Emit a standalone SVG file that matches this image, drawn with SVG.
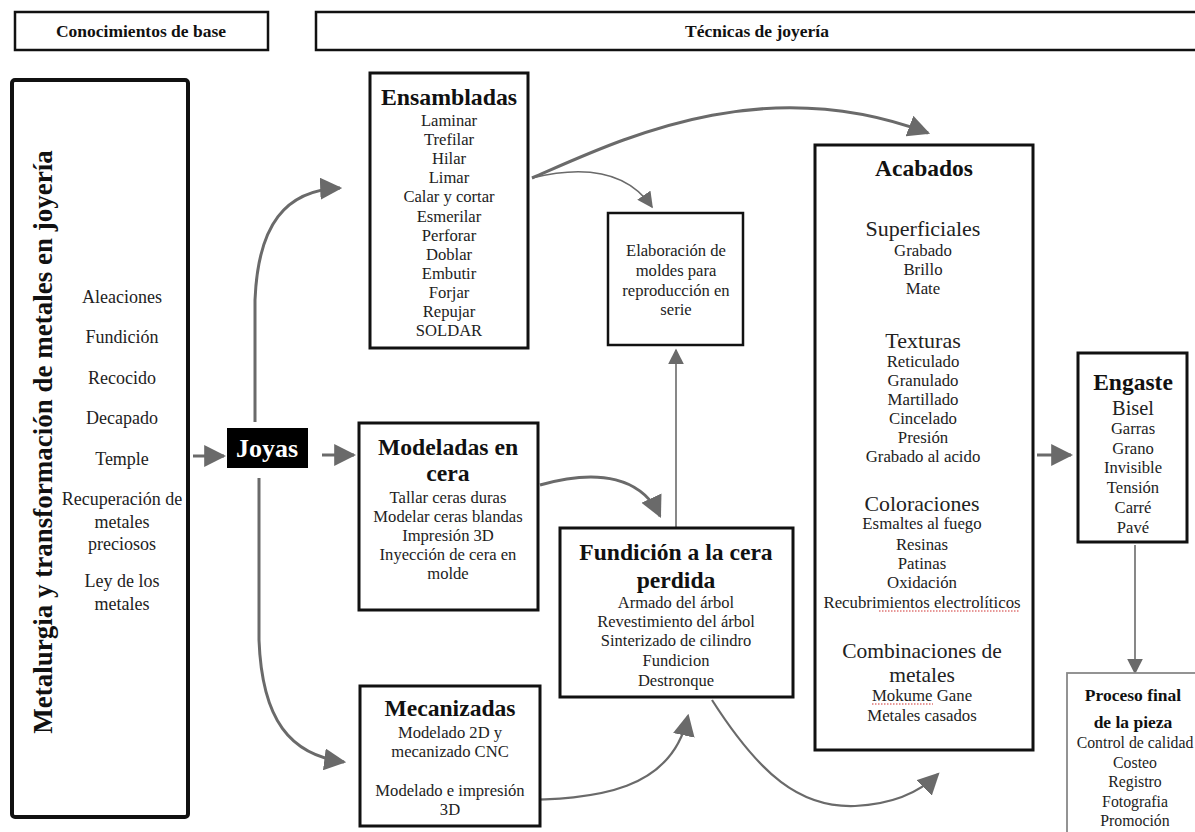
<svg xmlns="http://www.w3.org/2000/svg" width="1195" height="832" viewBox="0 0 1195 832">
<defs>
<style>
.box{fill:#fff;stroke:#111;stroke-width:3}
.hdr{fill:#fff;stroke:#111;stroke-width:2.5}
.t{font-family:"Liberation Serif","Times New Roman",serif;fill:#222;text-anchor:middle}
.b{font-weight:bold;fill:#111}
.c{fill:none;stroke:#6a6a6a;stroke-width:3}
.ct{fill:none;stroke:#6a6a6a;stroke-width:1.6}
.sq{fill:none;stroke:#d03030;stroke-width:1.2;stroke-dasharray:1.5 1.5}
</style>
<marker id="ah" viewBox="0 0 10 10" refX="9" refY="5" markerWidth="22" markerHeight="22" markerUnits="userSpaceOnUse" orient="auto">
<path d="M0,0 L10,5 L0,10 Z" fill="#6a6a6a"/>
</marker>
<marker id="ahs" viewBox="0 0 10 10" refX="9" refY="5" markerWidth="16" markerHeight="16" markerUnits="userSpaceOnUse" orient="auto">
<path d="M0,0 L10,5 L0,10 Z" fill="#6a6a6a"/>
</marker>
</defs>
<rect width="1195" height="832" fill="#fff"/>

<g id="hdr-base">
<rect class="hdr" x="15" y="12" width="253" height="38"/>
<text class="t b" x="141" y="37" font-size="17.5">Conocimientos de base</text>
</g>
<g id="hdr-tecnicas">
<rect class="hdr" x="316" y="12" width="890" height="38"/>
<text class="t b" x="757" y="37" font-size="17.5">Técnicas de joyería</text>
</g>

<g id="connectors">
<path class="c" d="M193,456 L224,456" marker-end="url(#ah)"/>
<path class="c" d="M322,455 L354,455" marker-end="url(#ah)"/>
<path class="c" d="M255,422 L255,300 C258,225 285,190 340,188" marker-end="url(#ah)"/>
<path class="c" d="M259,478 L259,640 C262,720 290,755 344,762" marker-end="url(#ah)"/>
<path class="c" d="M532,178 C620,140 760,70 928,133" marker-end="url(#ah)"/>
<path class="ct" d="M532,178 C585,165 628,172 652,207" marker-end="url(#ahs)"/>
<path class="c" d="M540,485 C600,468 642,478 660,516" marker-end="url(#ah)"/>
<path class="ct" d="M676,527 L676,350" marker-end="url(#ahs)"/>
<path class="ct" d="M510,800 C600,800 672,790 688,716" marker-end="url(#ah)" style="stroke-width:2.2"/>
<path class="ct" d="M712,700 C760,775 800,808 855,806 C895,804 920,792 938,774" marker-end="url(#ah)" style="stroke-width:2.2"/>
<path class="c" d="M1037,455 L1071,455" marker-end="url(#ah)"/>
<path class="ct" d="M1135,545 L1135,673" marker-end="url(#ahs)"/>
</g>

<g id="metalurgia">
<rect class="box" x="12" y="80" width="176" height="737" rx="3" style="stroke-width:4"/>
<text class="t b" font-size="27" transform="translate(52,442) rotate(-90)">Metalurgia y transformación de metales en joyería</text>
<g class="t" font-size="18">
<text x="122" y="303">Aleaciones</text>
<text x="122" y="343">Fundición</text>
<text x="122" y="384">Recocido</text>
<text x="122" y="424">Decapado</text>
<text x="122" y="465">Temple</text>
<text x="122" y="505">Recuperación de</text>
<text x="122" y="528">metales</text>
<text x="122" y="550">preciosos</text>
<text x="122" y="587">Ley de los</text>
<text x="122" y="610">metales</text>
</g>
</g>

<g id="joyas">
<rect x="227" y="428" width="81" height="40" fill="#000"/>
<text class="t b" x="267" y="457" font-size="26" style="fill:#fff">Joyas</text>
</g>

<g id="ensambladas">
<rect class="box" x="370" y="73" width="158" height="275"/>
<text class="t b" x="449" y="105" font-size="23.8">Ensambladas</text>
<g class="t" font-size="16.6">
<text x="449" y="126">Laminar</text>
<text x="449" y="145">Trefilar</text>
<text x="449" y="164">Hilar</text>
<text x="449" y="183">Limar</text>
<text x="449" y="202">Calar y cortar</text>
<text x="449" y="222">Esmerilar</text>
<text x="449" y="241">Perforar</text>
<text x="449" y="260">Doblar</text>
<text x="449" y="279">Embutir</text>
<text x="449" y="298">Forjar</text>
<text x="449" y="317">Repujar</text>
<text x="449" y="336">SOLDAR</text>
</g>
</g>

<g id="modeladas">
<rect class="box" x="359" y="423" width="179" height="187"/>
<text class="t b" x="448" y="455" font-size="23.7">Modeladas en</text>
<text class="t b" x="448" y="481" font-size="23.7">cera</text>
<g class="t" font-size="16.6">
<text x="448" y="503">Tallar ceras duras</text>
<text x="448" y="522">Modelar ceras blandas</text>
<text x="448" y="541">Impresión 3D</text>
<text x="448" y="560">Inyección de cera en</text>
<text x="448" y="579">molde</text>
</g>
</g>

<g id="mecanizadas">
<rect class="box" x="360" y="686" width="180" height="140"/>
<text class="t b" x="450" y="716" font-size="23.6">Mecanizadas</text>
<g class="t" font-size="16.6">
<text x="450" y="738">Modelado 2D y</text>
<text x="450" y="757">mecanizado CNC</text>
<text x="450" y="796">Modelado e impresión</text>
<text x="450" y="815">3D</text>
</g>
</g>

<g id="elaboracion">
<rect class="box" x="608" y="213" width="135" height="132" style="stroke-width:2.5"/>
<g class="t" font-size="16.6">
<text x="676" y="256">Elaboración de</text>
<text x="676" y="276">moldes para</text>
<text x="676" y="296">reproducción en</text>
<text x="676" y="315">serie</text>
</g>
</g>

<g id="fundicion">
<rect class="box" x="560" y="528" width="233" height="169"/>
<text class="t b" x="676" y="560" font-size="23.6">Fundición a la cera</text>
<text class="t b" x="676" y="588" font-size="23.6">perdida</text>
<g class="t" font-size="16.5">
<text x="676" y="608">Armado del árbol</text>
<text x="676" y="627">Revestimiento del árbol</text>
<text x="676" y="646">Sinterizado de cilindro</text>
<text x="676" y="666">Fundicion</text>
<text x="676" y="686">Destronque</text>
</g>
</g>

<g id="acabados">
<rect class="box" x="815" y="145" width="218" height="605"/>
<text class="t b" x="924" y="176" font-size="23.5">Acabados</text>
<text class="t" x="923" y="236" font-size="22">Superficiales</text>
<g class="t" font-size="16.8">
<text x="923" y="256">Grabado</text>
<text x="923" y="275">Brillo</text>
<text x="923" y="294">Mate</text>
</g>
<text class="t" x="923" y="348" font-size="22">Texturas</text>
<g class="t" font-size="16.8">
<text x="923" y="367">Reticulado</text>
<text x="923" y="386">Granulado</text>
<text x="923" y="405">Martillado</text>
<text x="923" y="424">Cincelado</text>
<text x="923" y="443">Presión</text>
<text x="923" y="462">Grabado al acido</text>
</g>
<text class="t" x="922" y="511" font-size="21.8">Coloraciones</text>
<g class="t" font-size="16.8">
<text x="922" y="529">Esmaltes al fuego</text>
<text x="922" y="550">Resinas</text>
<text x="922" y="569">Patinas</text>
<text x="922" y="588">Oxidación</text>
<text x="922" y="608">Recubrimientos electrolíticos</text>
</g>
<text class="t" x="922" y="658" font-size="21.5">Combinaciones de</text>
<text class="t" x="922" y="682" font-size="21.5">metales</text>
<g class="t" font-size="16.8">
<text x="922" y="701">Mokume Gane</text>
<text x="922" y="721">Metales casados</text>
</g>
<path class="sq" d="M879,611 L1020,611"/>
<path class="sq" d="M872,704 L933,704"/>
</g>

<g id="engaste">
<rect class="box" x="1078" y="353" width="109" height="189"/>
<text class="t b" x="1133" y="390" font-size="23.5">Engaste</text>
<text class="t" x="1133" y="415" font-size="20.4">Bisel</text>
<g class="t" font-size="16.6">
<text x="1133" y="434">Garras</text>
<text x="1133" y="454">Grano</text>
<text x="1133" y="473">Invisible</text>
<text x="1133" y="493">Tensión</text>
<text x="1133" y="513">Carré</text>
<text x="1133" y="533">Pavé</text>
</g>
</g>

<g id="proceso">
<rect x="1067" y="673" width="140" height="170" fill="#fff" stroke="#888" stroke-width="1.8"/>
<text class="t b" x="1133" y="701" font-size="17.5">Proceso final</text>
<text class="t b" x="1133" y="728" font-size="17.5">de la pieza</text>
<g class="t" font-size="15.8">
<text x="1135" y="748">Control de calidad</text>
<text x="1135" y="768">Costeo</text>
<text x="1135" y="787">Registro</text>
<text x="1135" y="807">Fotografia</text>
<text x="1135" y="826">Promoción</text>
</g>
</g>
</svg>
